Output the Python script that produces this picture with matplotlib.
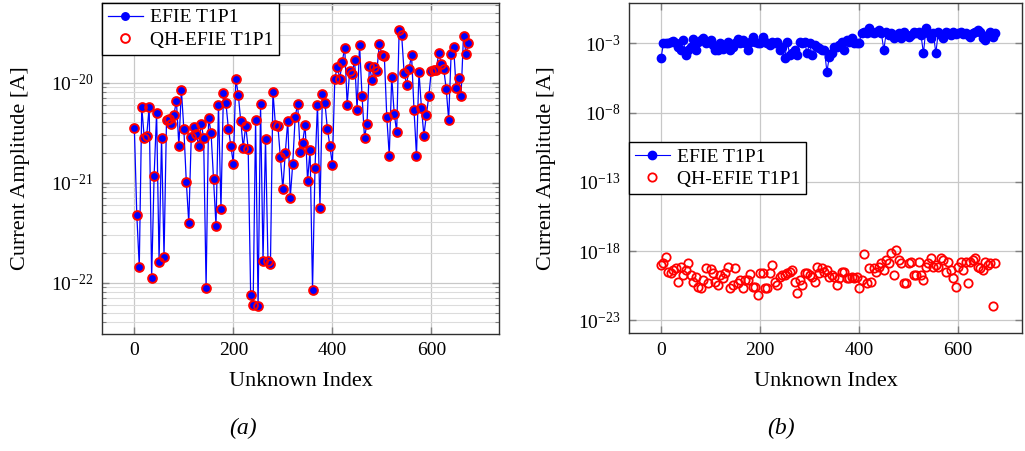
import numpy as np
import matplotlib
matplotlib.use("Agg")
import matplotlib.pyplot as plt
from matplotlib.ticker import FixedLocator, FuncFormatter, LogLocator, NullFormatter

plt.rcParams['font.family'] = ['Liberation Serif', 'DejaVu Serif']
plt.rcParams['mathtext.fontset'] = 'custom'
plt.rcParams['mathtext.rm'] = 'Liberation Serif'
plt.rcParams['mathtext.it'] = 'Liberation Serif:italic'

# ---------------- data ----------------
unknown_index = list(range(0, 680, 5))   # 136 unknowns

# (a) log10 of current amplitude (EFIE and QH-EFIE coincide)
efie_a_log10 = [
    -20.45, -21.32, -21.84, -20.24, -20.55, -20.53, -20.24, -21.95, -20.93, -20.30,
    -21.79, -20.55, -21.74, -20.37, -20.36, -20.41, -20.32, -20.18, -20.63, -20.07,
    -20.46, -20.99, -21.40, -20.54, -20.44, -20.51, -20.63, -20.41, -20.55, -22.05,
    -20.35, -20.50, -20.96, -21.43, -20.22, -21.26, -20.10, -20.20, -20.46, -20.63,
    -20.81, -19.96, -20.12, -20.38, -20.65, -20.43, -20.66, -22.12, -22.22, -20.37,
    -22.23, -20.21, -21.78, -20.56, -21.78, -21.81, -20.09, -20.42, -20.43, -20.74,
    -21.06, -20.70, -20.38, -21.15, -20.81, -20.34, -20.21, -20.69, -20.60, -20.42,
    -20.98, -20.67, -22.07, -20.85, -20.22, -21.25, -20.11, -20.20, -20.46, -20.63,
    -20.82, -19.96, -19.84, -19.96, -19.79, -19.65, -20.22, -19.88, -19.91, -19.77,
    -20.27, -19.62, -20.13, -20.55, -20.41, -19.83, -19.97, -19.84, -19.88, -19.61,
    -19.72, -19.73, -20.34, -20.73, -19.94, -20.31, -20.49, -19.47, -19.52, -19.90,
    -20.02, -19.86, -19.72, -20.27, -20.73, -19.89, -20.25, -20.53, -20.32, -20.13,
    -19.88, -19.87, -19.87, -19.70, -19.81, -19.86, -20.06, -20.37, -19.71, -19.64,
    -20.05, -19.95, -20.13, -19.53, -19.71, -19.60,
]
qh_efie_a_log10 = list(efie_a_log10)

# (b) log10 of current amplitude
efie_b_log10 = [
    -4.09, -3.00, -2.95, -2.95, -2.88, -2.81, -2.95, -3.24, -3.48, -2.76,
    -3.84, -3.48, -3.24, -2.71, -3.48, -2.88, -2.76, -2.64, -3.00, -2.88,
    -2.76, -3.12, -3.48, -3.48, -3.00, -3.44, -3.12, -2.88, -3.48, -3.24,
    -2.95, -2.71, -3.00, -2.76, -3.00, -3.48, -2.88, -2.57, -2.88, -2.95,
    -3.00, -2.57, -2.88, -3.00, -3.12, -2.88, -2.95, -2.88, -3.48, -3.24,
    -4.09, -2.88, -3.84, -3.72, -3.48, -3.84, -2.88, -3.00, -2.88, -3.72,
    -3.00, -3.84, -3.12, -3.24,
    -3.36, -3.48, -3.48, -5.05, -3.97, -3.72, -3.24, -3.24, -3.12, -2.88,
    -3.48, -2.76, -2.88, -2.64, -3.00, -3.00, -3.00, -2.28, -2.16, -2.28,
    -1.92, -2.16, -2.28, -2.16, -2.04, -2.28, -3.48, -2.16, -2.40, -2.28,
    -2.64, -2.40, -2.28, -2.64, -2.16, -2.40, -2.52, -2.40, -2.16, -2.28,
    -2.16, -2.40, -3.72, -1.92, -2.28, -2.64, -2.28, -3.72, -2.16, -2.40,
    -2.64, -2.16, -2.28, -2.40, -2.22, -2.34, -2.28, -2.16, -2.34, -2.28,
    -2.40, -2.52, -2.28, -2.16, -2.04, -2.16, -2.64, -2.76, -2.40, -2.16,
    -2.52, -2.28,
]
qh_efie_b_log10 = [
    -19.01, -18.88, -18.45, -19.49, -19.61, -19.37, -19.25, -20.21, -19.13, -19.73,
    -19.37, -18.88, -19.73, -20.21, -19.85, -20.57, -20.69, -20.09, -19.25, -20.33,
    -19.32, -19.61, -20.21, -20.45, -19.73, -19.97, -19.61, -19.17, -20.69, -20.45,
    -19.25, -20.33, -20.09, -20.69, -20.09, -20.09, -19.68, -20.57, -20.57, -21.17,
    -19.61, -19.61, -20.69, -20.69, -19.61, -19.01, -20.21, -20.45, -19.85, -19.73,
    -19.73, -19.61, -19.49, -19.37, -20.21, -21.05, -20.09, -20.45, -19.61, -19.61,
    -19.73, -19.85, -20.21, -19.13,
    -19.61, -19.25, -19.49, -19.37, -19.85, -19.73, -19.85, -20.45, -19.97, -19.49,
    -19.49, -19.97, -19.97, -19.85, -19.97, -19.85, -20.69, -20.09, -18.23, -20.33,
    -19.25, -20.21, -19.25, -19.49, -19.13, -18.88, -19.37, -18.65, -18.88, -18.16,
    -19.73, -17.92, -18.65, -18.88, -20.33, -20.33, -18.88, -18.77, -19.73, -19.73,
    -18.77, -19.73, -20.09, -19.13, -18.88, -18.52, -19.13, -19.01, -19.13, -18.52,
    -18.65, -19.49, -18.77, -19.37, -19.97, -20.57, -19.13, -18.77, -19.37, -18.77,
    -20.33, -18.77, -18.65, -18.52, -19.13, -19.25, -19.37, -18.77, -19.01, -18.88,
    -21.97, -18.88,
]

series_labels = ["EFIE T1P1", "QH-EFIE T1P1"]
x_label = "Unknown Index"
y_label = "Current Amplitude [A]"
captions = ["(a)", "(b)"]
x_ticks = [0, 200, 400, 600]

# ---------------- figure ----------------
W, H = 1025, 451
fig = plt.figure(figsize=(W / 100, H / 100), dpi=100)

def px_axes(l, r, t, b):
    return fig.add_axes([l / W, (H - b) / H, (r - l) / W, (b - t) / H])

axA = px_axes(102, 499, 3, 333.7)
axB = px_axes(629, 1022, 3, 333.3)

FS = 14
LFS = 16
grid_col = '#c8c8c8'
tick_col = '#808080'

def style(ax, left_px, axl, axb, axh, axw):
    ax.set_yscale('log')
    ax.set_xticks(x_ticks)
    ax.tick_params(which='both', direction='in', top=True, right=True,
                   color=tick_col, labelsize=FS, pad=6)
    ax.tick_params(which='major', length=5, width=1)
    ax.tick_params(which='minor', length=3, width=0.8)
    for s in ax.spines.values():
        s.set_linewidth(1.0)
        s.set_color('#303030')
    ax.set_xlabel(x_label, fontsize=LFS)
    ax.set_ylabel(y_label, fontsize=LFS)
    ax.xaxis.label.set_va('center')
    ax.yaxis.label.set_va('center')
    ax.xaxis.set_label_coords(0.5, (axb - 381) / axh)
    ax.yaxis.set_label_coords((left_px - axl) / axw, 0.5)
    ax.set_axisbelow(True)
    ax.yaxis.set_major_formatter(FuncFormatter(lambda v, p: r'$10^{%d}$' % round(np.log10(v))))

# ----- (a) -----
ya = 10.0 ** np.array(efie_a_log10)
yqa = 10.0 ** np.array(qh_efie_a_log10)
axA.plot(unknown_index, ya, color='blue', lw=0.9, marker='o', ms=5.4,
         mfc='blue', mec='blue', label=series_labels[0], zorder=3)
axA.plot(unknown_index, yqa, ls='none', marker='o', ms=6.3, mfc='none',
         mec='red', mew=1.4, label=series_labels[1], zorder=4)
style(axA, 21, 102, 333.7, 330.7, 397)
axA.set_xlim(-65.3, 736.7)
axA.set_ylim(10 ** -22.51, 10 ** -19.203)
axA.yaxis.set_major_locator(FixedLocator([1e-22, 1e-21, 1e-20]))
axA.yaxis.set_minor_locator(LogLocator(base=10, subs=np.arange(2, 10)))
axA.yaxis.set_minor_formatter(NullFormatter())
axA.grid(True, which='major', color=grid_col, lw=0.9)
axA.grid(True, which='minor', axis='y', color='#dcdcdc', lw=0.8)
legA = axA.legend(loc='upper left', bbox_to_anchor=(0, 1), borderaxespad=0,
                  fontsize=FS, frameon=True, fancybox=False, edgecolor='black',
                  framealpha=1, handlelength=1.8, handletextpad=0.35,
                  borderpad=0.3, labelspacing=0.25)
legA.get_frame().set_linewidth(1.0)

# ----- (b) -----
yb = 10.0 ** np.array(efie_b_log10)
yqb = 10.0 ** np.array(qh_efie_b_log10)
axB.plot(unknown_index, yb, color='blue', lw=0.8, marker='o', ms=6.0,
         mfc='blue', mec='blue', label=series_labels[0], zorder=3)
axB.plot(unknown_index, yqb, ls='none', marker='o', ms=6.0, mfc='none',
         mec='red', mew=1.3, label=series_labels[1], zorder=4)
style(axB, 547, 629, 333.3, 330.3, 393)
axB.set_xlim(-64.6, 729)
axB.set_ylim(10 ** -23.94, 10 ** -0.09)
axB.yaxis.set_major_locator(FixedLocator([1e-23, 1e-18, 1e-13, 1e-8, 1e-3]))
axB.yaxis.set_minor_locator(FixedLocator([]))
axB.grid(True, which='major', color=grid_col, lw=0.9)
legB = axB.legend(loc='upper left', bbox_to_anchor=(0, 0.579), borderaxespad=0,
                  fontsize=FS, frameon=True, fancybox=False, edgecolor='black',
                  framealpha=1, handlelength=1.8, handletextpad=0.35,
                  borderpad=0.3, labelspacing=0.25)
legB.get_frame().set_linewidth(1.0)

# captions
fig.text(243 / W, 1 - 428 / H, captions[0], fontsize=17, style='italic',
         ha='center', va='center')
fig.text(781 / W, 1 - 428 / H, captions[1], fontsize=17, style='italic',
         ha='center', va='center')

fig.savefig("out.png", dpi=100)
